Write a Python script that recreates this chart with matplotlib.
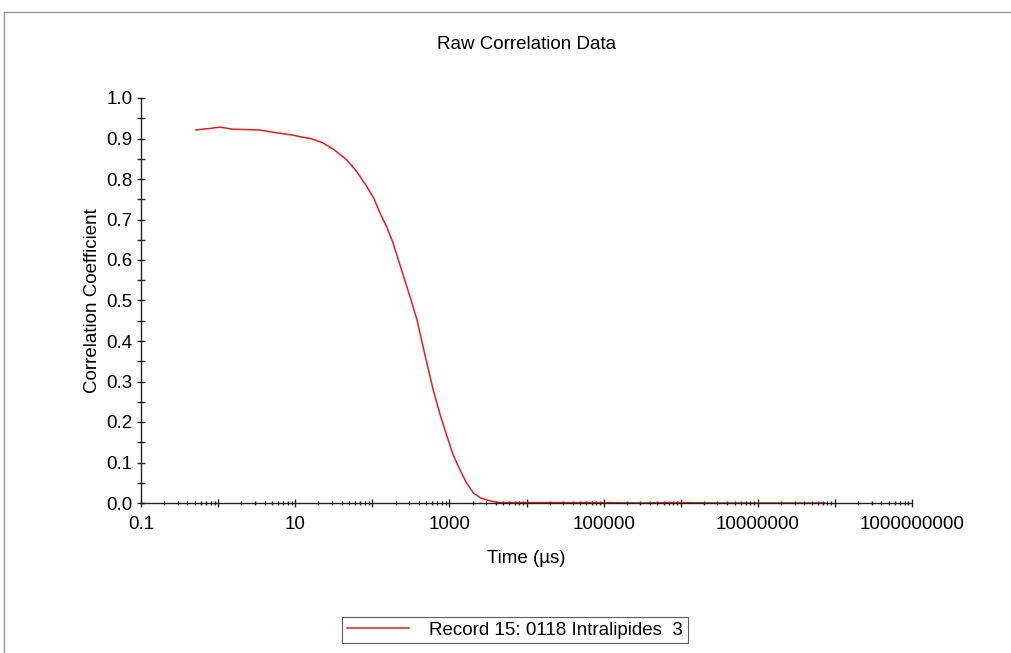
import numpy as np
import matplotlib
matplotlib.use("Agg")
import matplotlib.pyplot as plt
from matplotlib.ticker import LogLocator, MultipleLocator, NullFormatter
from matplotlib.lines import Line2D

plt.rcParams['font.family'] = ['Liberation Sans', 'DejaVu Sans']

# lag time (us) and correlation coefficient
tau = [0.516, 0.794, 1.06, 1.55, 3.47, 5.75, 8.91, 12.6, 15.8, 22.4, 31.6,
       46.8, 63.1, 85.1, 105, 126, 155, 186, 214, 263, 316, 380, 479, 617,
       759, 933, 1122, 1380, 1660, 2042, 2512, 3090, 3802, 4571, 6310,
       10000, 31600, 100000, 316000, 1000000, 3160000, 10000000, 31600000,
       74000000]
g2 = [0.921, 0.925, 0.928, 0.923, 0.921, 0.914, 0.909, 0.903, 0.900, 0.890,
      0.873, 0.847, 0.818, 0.781, 0.752, 0.716, 0.680, 0.642, 0.605, 0.551,
      0.503, 0.452, 0.368, 0.279, 0.218, 0.164, 0.118, 0.081, 0.050, 0.025,
      0.013, 0.007, 0.003, 0.001, 0.001,
      0.001, 0.001, 0.001, 0.000, 0.001, 0.000, 0.000, 0.000, 0.000]

xlabels = ['0.1', '10', '1000', '100000', '10000000', '1000000000']
xlabel_pos = [0.1, 10, 1000, 100000, 10000000, 1000000000]

fig = plt.figure(figsize=(10.12, 6.53), dpi=100)
ax = fig.add_axes([141/1012, 1-503/653, (912-141)/1012, (503-98)/653])

line, = ax.plot(tau, g2, color='#e02020', lw=1.1, label='Record 15: 0118 Intralipides  3')

ax.set_xscale('log')
ax.set_xlim(0.1, 1e9)
ax.set_ylim(0, 1.0)

ax.xaxis.set_major_locator(LogLocator(base=10, numticks=20))
ax.xaxis.set_minor_locator(LogLocator(base=10, subs=np.arange(2, 10), numticks=20))
ax.xaxis.set_major_formatter(NullFormatter())
ax.xaxis.set_minor_formatter(NullFormatter())
for p, s in zip(xlabel_pos, xlabels):
    ax.text(p, -0.032, s, ha='center', va='top', fontsize=13.5,
            transform=ax.get_xaxis_transform())

ax.yaxis.set_major_locator(MultipleLocator(0.1))
ax.yaxis.set_minor_locator(MultipleLocator(0.05))
ax.set_yticklabels([f'{v:.1f}' for v in ax.get_yticks()])

ax.tick_params(axis='both', which='major', direction='inout', length=6, width=1,
               labelsize=13.5, color='#222222')
ax.tick_params(axis='x', which='minor', direction='inout', length=3, width=1, color='#222222')
ax.tick_params(axis='y', which='minor', direction='inout', length=6, width=1, color='#222222')
ax.tick_params(axis='y', which='major', pad=3)

for s in ['top', 'right']:
    ax.spines[s].set_visible(False)
for s in ['left', 'bottom']:
    ax.spines[s].set_linewidth(1)
    ax.spines[s].set_color('#222222')

ax.set_title('Raw Correlation Data', fontsize=13.5, pad=35)
ax.set_xlabel('Time (\u00b5s)', fontsize=13.5, labelpad=27)
ax.set_ylabel('Correlation Coefficient', fontsize=13.5, labelpad=4)

leg = fig.legend(handles=[line], loc='center', bbox_to_anchor=(515/1012, 1-630/653),
                 fontsize=13.5, frameon=True, fancybox=False, handlelength=3.3,
                 handletextpad=1.1, borderpad=0.25, borderaxespad=0)
leg.get_frame().set_edgecolor('#333333')
leg.get_frame().set_linewidth(0.8)

# outer gray border
fig.add_artist(Line2D([4/1012, 1.0], [1-12/653, 1-12/653], color='#999999', lw=1,
                      transform=fig.transFigure))
fig.add_artist(Line2D([4/1012, 4/1012], [0.0, 1-12/653], color='#999999', lw=1,
                      transform=fig.transFigure))

fig.savefig('out.png', dpi=100)
